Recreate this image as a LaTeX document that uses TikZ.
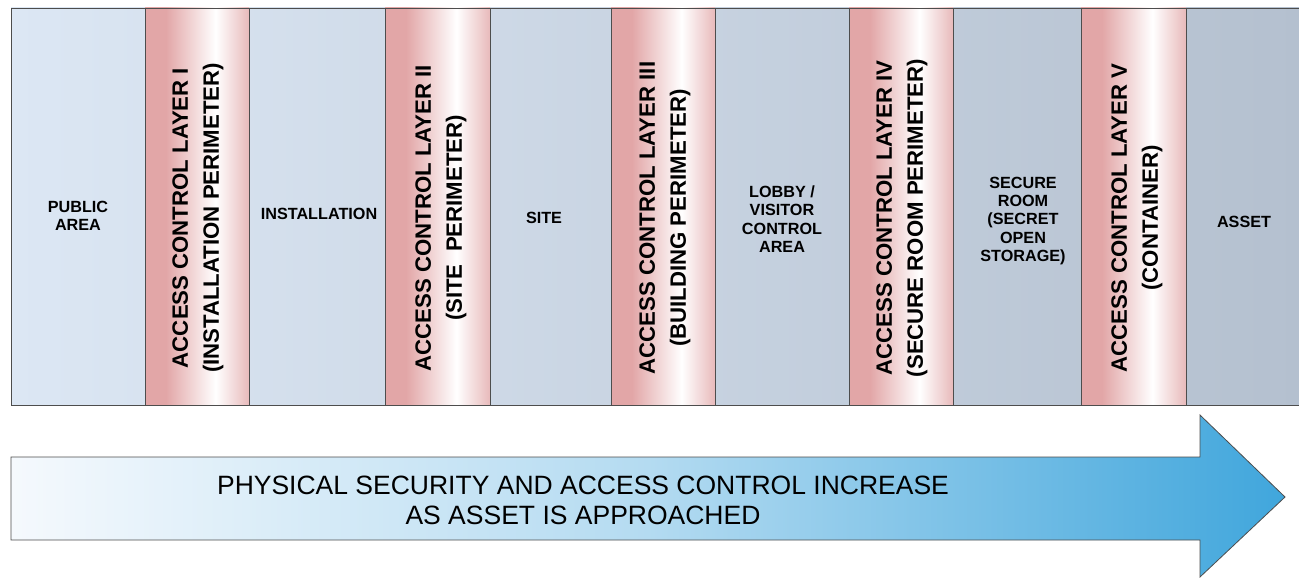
\documentclass[tikz,border=0pt]{standalone}
\usepackage{fontspec}
\setmainfont{Liberation Sans}
\definecolor{zoneL}{RGB}{220,231,244}
\definecolor{zoneR}{RGB}{180,192,207}
\definecolor{pinkL}{RGB}{226,166,167}
\definecolor{pinkR}{RGB}{232,186,187}
\definecolor{arrowL}{RGB}{245,249,253}
\definecolor{arrowM}{RGB}{180,219,241}
\definecolor{arrowR}{RGB}{64,166,220}
\definecolor{edgegray}{RGB}{77,77,77}
\pgfdeclarehorizontalshading{layershade}{100bp}{color(0bp)=(pinkL); color(35bp)=(pinkL); color(59bp)=(white); color(75bp)=(pinkR); color(100bp)=(pinkR)}
\pgfdeclarehorizontalshading{arrowshade}{100bp}{color(0bp)=(arrowL); color(25bp)=(arrowL); color(50bp)=(arrowM); color(75bp)=(arrowR); color(100bp)=(arrowR)}
\tikzset{
  zone/.style={draw=edgegray, line width=0.9pt, minimum height=397pt, inner sep=0pt},
  layer/.style={zone, shading=layershade},
  zonetext/.style={font=\bfseries\fontsize{16.2}{18.3}\selectfont, align=center, inner sep=0pt},
  layertext/.style={font=\bfseries\fontsize{22.2}{31}\selectfont, align=center, inner sep=0pt, rotate=90},
}
\begin{document}
\begin{tikzpicture}[x=1pt, y=-1pt]
  \useasboundingbox (0,0) rectangle (1299,578);
  \shade[left color=zoneL, right color=zoneR] (11,8) rectangle (1302,405);
  % zones
  \node[zone, minimum width=134pt] (public) at (78,206.5) {};
  \node[zone, minimum width=136pt] (install) at (317,206.5) {};
  \node[zone, minimum width=121pt] (site) at (550.5,206.5) {};
  \node[zone, minimum width=134pt] (lobby) at (782,206.5) {};
  \node[zone, minimum width=128pt] (room) at (1017,206.5) {};
  \node[zone, minimum width=116pt] (asset) at (1244,206.5) {};
  \node[zonetext] (publictext) at (78,216) {PUBLIC\\AREA};
  \node[zonetext] (installtext) at (319,214) {INSTALLATION};
  \node[zonetext] (sitetext) at (544,218) {SITE};
  \node[zonetext] (lobbytext) at (782,219) {LOBBY /\\VISITOR\\CONTROL\\AREA};
  \node[zonetext] (roomtext) at (1023,221) {SECURE\\ROOM\\(SECRET\\OPEN\\STORAGE)};
  \node[zonetext] (assettext) at (1244,222) {ASSET};
  % access control layers
  \node[layer, minimum width=104pt] (layerI) at (197,206.5) {};
  \node[layer, minimum width=105pt] (layerII) at (437.5,206.5) {};
  \node[layer, minimum width=104pt] (layerIII) at (663,206.5) {};
  \node[layer, minimum width=104pt] (layerIV) at (901,206.5) {};
  \node[layer, minimum width=105pt] (layerV) at (1133.5,206.5) {};
  \node[layertext] (layerItext) at (198,218) {ACCESS CONTROL LAYER I\\(INSTALLATION PERIMETER)};
  \node[layertext] (layerIItext) at (441,218) {ACCESS CONTROL LAYER II\\(SITE\ \ PERIMETER)};
  \node[layertext] (layerIIItext) at (665,218) {ACCESS CONTROL LAYER III\\(BUILDING PERIMETER)};
  \node[layertext] (layerIVtext) at (902,218) {ACCESS CONTROL LAYER IV\\(SECURE ROOM PERIMETER)};
  \node[layertext] (layerVtext) at (1137,218) {ACCESS CONTROL LAYER V\\(CONTAINER)};
  % direction arrow
  \path[draw=edgegray, line width=0.8pt, shading=arrowshade]
    (11,457) -- (1200,457) -- (1200,415) -- (1285,497) -- (1200,577) -- (1200,540) -- (11,540) -- cycle;
  \node[font=\fontsize{26.5}{30}\selectfont, align=center, inner sep=0pt] (increase) at (583,500)
    {PHYSICAL SECURITY AND ACCESS CONTROL INCREASE\\AS ASSET IS APPROACHED};
\end{tikzpicture}
\end{document}
